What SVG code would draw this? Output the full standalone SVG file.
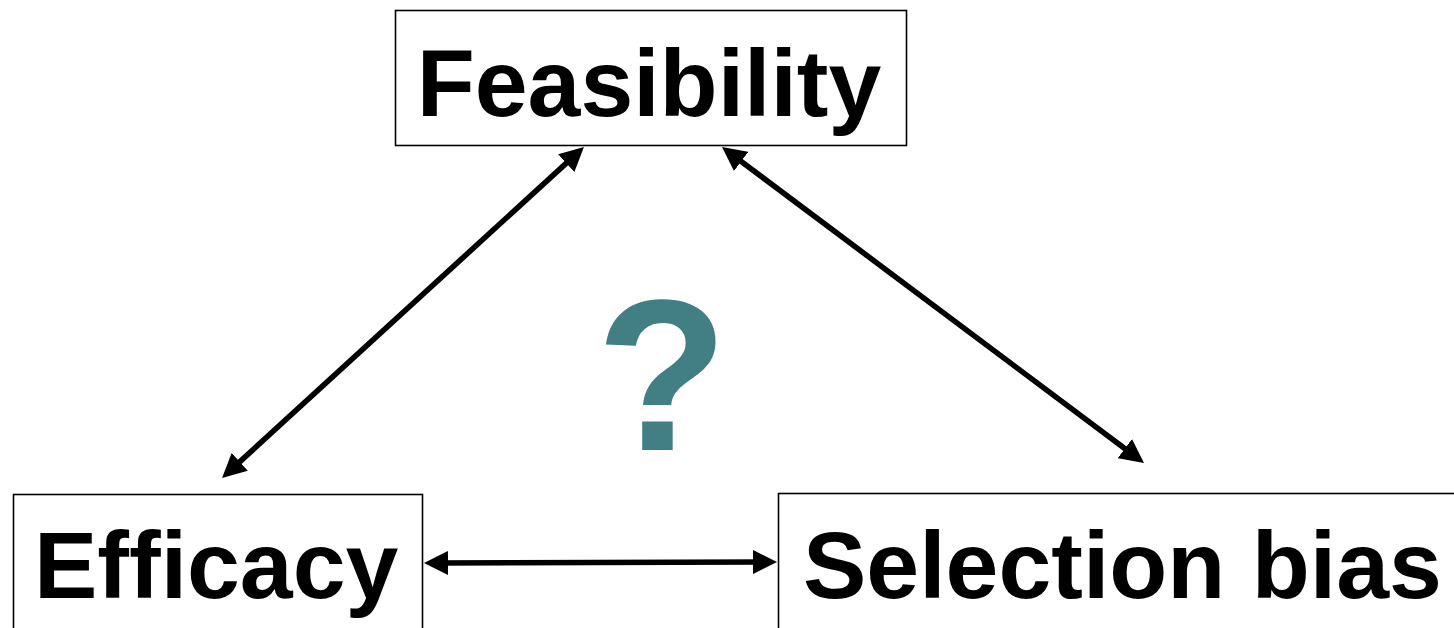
<svg xmlns="http://www.w3.org/2000/svg" width="1454" height="628" viewBox="0 0 1454 628">
  <style>
    .box { fill: #ffffff; stroke: #000000; stroke-width: 1.6; }
    .label { font-family: "Liberation Sans", Arial, sans-serif; font-weight: bold; font-size: 95px; fill: #000000; }
    .link { stroke: #000000; stroke-width: 5.5; fill: none; marker-start: url(#head); marker-end: url(#head); }
    .query { font-family: "Liberation Sans", Arial, sans-serif; font-weight: bold; font-size: 216px; fill: #427F84; }
  </style>
  <defs>
    <marker id="head" viewBox="0 0 24 24" markerWidth="24" markerHeight="24" refX="12" refY="12" markerUnits="userSpaceOnUse" orient="auto-start-reverse">
      <path d="M0,0 L24,12 L0,24 z" fill="#000000"/>
    </marker>
  </defs>
  <rect width="1454" height="628" fill="#ffffff"/>

  <g id="feasibility">
    <rect class="box" x="395.5" y="10.5" width="511" height="135"/>
    <text class="label" x="649" y="116" text-anchor="middle">Feasibility</text>
  </g>

  <g id="efficacy">
    <rect class="box" x="13.5" y="494.5" width="409" height="160"/>
    <text class="label" x="34" y="598">Efficacy</text>
  </g>

  <g id="selection-bias">
    <rect class="box" x="778.5" y="493.5" width="720" height="160"/>
    <text class="label" x="803" y="598">Selection bias</text>
  </g>

  <g id="question">
    <text class="query" x="662" y="450" text-anchor="middle">?</text>
  </g>

  <g id="connectors">
    <line class="link" x1="230.9" y1="469.9" x2="575.1" y2="155.1"/>
    <line class="link" x1="731.6" y1="154.2" x2="1134.4" y2="455.8"/>
    <line class="link" x1="436" y1="563" x2="765" y2="562"/>
  </g>
</svg>
